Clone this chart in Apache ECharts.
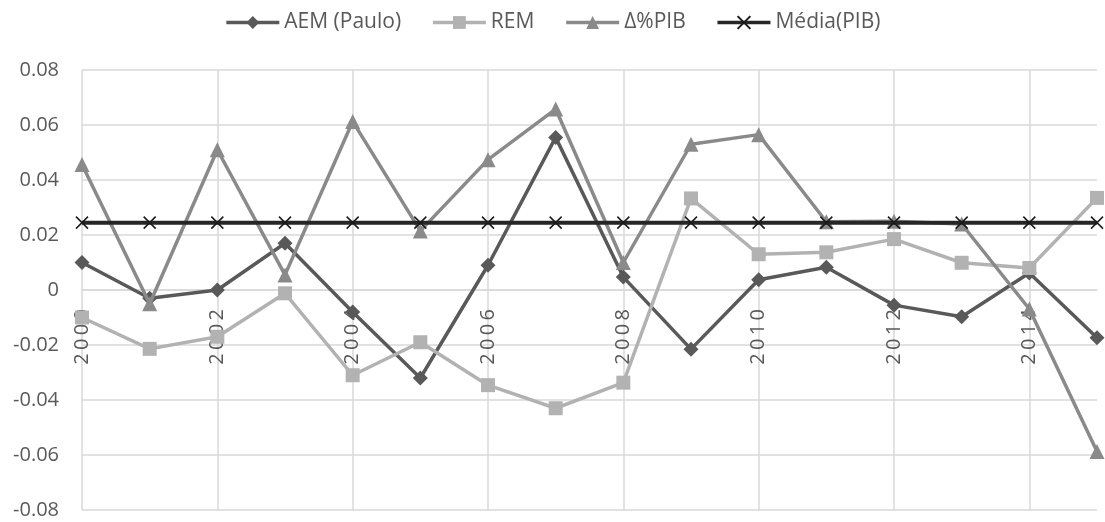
<!DOCTYPE html>
<html>
<head>
<meta charset="utf-8">
<script src="https://cdn.jsdelivr.net/npm/echarts@6/dist/echarts.min.js"></script>
<style>
html,body{margin:0;padding:0;background:#fff;}
#chart{width:1105px;height:522px;}
</style>
</head>
<body>
<div id="chart"></div>
<script>
const years = ['2000','2001','2002','2003','2004','2005','2006','2007','2008','2009','2010','2011','2012','2013','2014','2015'];
const aem = [0.010,-0.003,0.000,0.017,-0.008,-0.032,0.009,0.0555,0.0047,-0.0215,0.0037,0.0083,-0.0055,-0.0097,0.0062,-0.0174];
const rem = [-0.010,-0.0214,-0.017,-0.0012,-0.031,-0.019,-0.0346,-0.043,-0.0337,0.0333,0.013,0.0137,0.0185,0.0099,0.0080,0.0335];
const pib = [0.0456,-0.005,0.051,0.0055,0.0613,0.0215,0.0474,0.0658,0.0100,0.0530,0.0565,0.0248,0.0250,0.0240,-0.0069,-0.0587];
const mediaVal = 0.0245;
const media = years.map(() => mediaVal);
const yTicks = {min: -0.08, max: 0.08, interval: 0.02};

const chart = echarts.init(document.getElementById('chart'));
const FONT = 'Open Sans';
const xSym = 'path://M0,0L10,10M10,0L0,10';
const gridTop = 70, gridBottom = 12, H = 522;
const plotH = H - gridTop - gridBottom;
// distance from bottom edge of plot to the zero line
const zeroFromBottom = plotH * (0 - yTicks.min) / (yTicks.max - yTicks.min);
chart.setOption({
  animation: false,
  textStyle: {fontFamily: FONT},
  legend: {
    top: 7, left: 'center', itemGap: 30, itemWidth: 53, itemHeight: 16,
    lineStyle: {width: 3.5},
    textStyle: {color: '#595959', fontSize: 21, fontFamily: FONT},
    data: ['AEM (Paulo)','REM','Δ%PIB','Média(PIB)']
  },
  grid: {left: 82, right: 8, top: gridTop, bottom: gridBottom, containLabel: false, outerBoundsMode: 'none'},
  xAxis: {
    type: 'category', data: years, boundaryGap: false,
    axisLine: {onZero: true, lineStyle: {color: '#d9d9d9', width: 1.5}},
    axisTick: {show: false},
    axisLabel: {
      interval: 1, rotate: 90, margin: -(zeroFromBottom - 19), color: '#595959', fontSize: 20, fontFamily: FONT,
      formatter: v => v.split('').join('\u2009')
    },
    splitLine: {show: true, interval: 1, lineStyle: {color: '#d9d9d9', width: 1.5}}
  },
  yAxis: {
    type: 'value', min: yTicks.min, max: yTicks.max, interval: yTicks.interval,
    axisLine: {show: false}, axisTick: {show: false},
    axisLabel: {color: '#595959', fontSize: 20, fontFamily: FONT, margin: 23,
      formatter: v => Math.abs(v) < 1e-9 ? '0' : v.toFixed(2)},
    splitLine: {lineStyle: {color: '#d9d9d9', width: 1.5}}
  },
  series: [
    {name: 'AEM (Paulo)', type: 'line', data: aem, symbol: 'diamond', symbolSize: 15,
     color: '#595959', lineStyle: {width: 3.5, color: '#595959'}, itemStyle: {color: '#595959'}, z: 2},
    {name: 'REM', type: 'line', data: rem, symbol: 'rect', symbolSize: 14,
     color: '#b2b2b2', lineStyle: {width: 3.5, color: '#b2b2b2'}, itemStyle: {color: '#b2b2b2'}, z: 2},
    {name: 'Δ%PIB', type: 'line', data: pib, symbol: 'triangle', symbolSize: 15,
     color: '#8a8a8a', lineStyle: {width: 3.5, color: '#8a8a8a'}, itemStyle: {color: '#8a8a8a'}, z: 3},
    {name: 'Média(PIB)', type: 'line', data: media, symbol: xSym, symbolSize: 12,
     color: '#262626', lineStyle: {width: 4, color: '#262626'},
     itemStyle: {color: 'transparent', borderColor: '#1a1a1a', borderWidth: 1.5}, z: 4}
  ]
});
</script>
</body>
</html>
